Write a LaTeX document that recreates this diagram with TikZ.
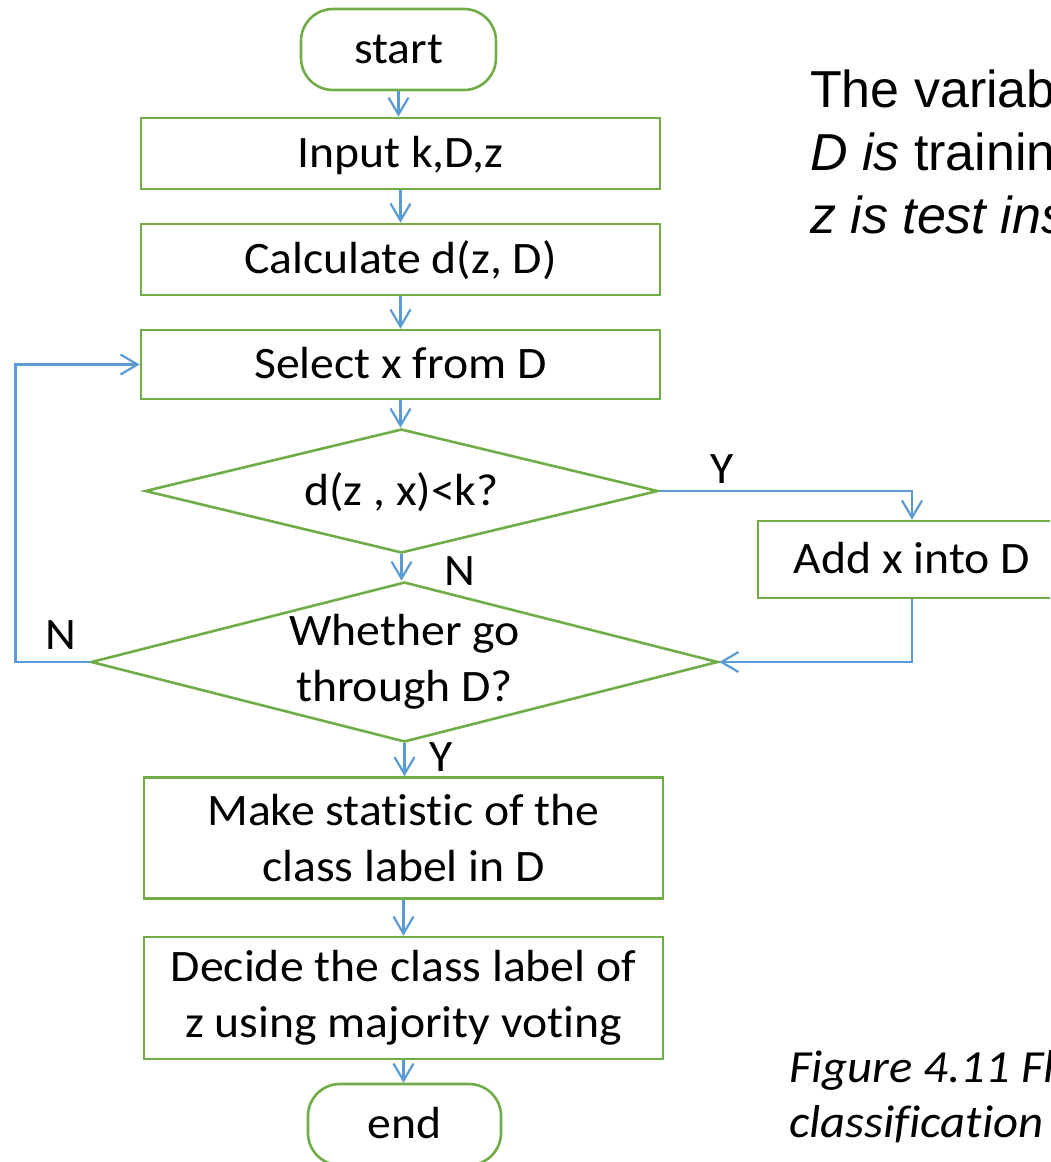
\documentclass[tikz,border=0pt]{standalone}
\usepackage{fontspec}
\setmainfont{Carlito}[Ligatures=NoCommon]
\newfontfamily\flowfont{Carlito}[FakeStretch=1.06, Ligatures=NoCommon]
\newfontfamily\notefont{Liberation Sans}
\usetikzlibrary{shapes.geometric,arrows.meta}
\definecolor{boxgreen}{HTML}{70AD47}
\definecolor{flowblue}{HTML}{5B9BD5}
\begin{document}
\begin{tikzpicture}[x=1pt,y=-1pt,
  txt/.style={font=\flowfont\fontsize{45}{56}\selectfont, text=black},
  oneline/.style={text height=28.5pt, text depth=0pt},
  outline/.style={draw=boxgreen, line width=2.6pt},
  procbox/.style={txt, outline, rectangle, inner sep=0pt, minimum width=519pt, align=center},
  termbox/.style={txt, oneline, outline, rectangle, rounded corners=32pt, inner sep=0pt, minimum width=195pt, minimum height=81pt},
  decision/.style={outline, diamond, inner sep=0pt},
  decisiontext/.style={txt, align=center, inner sep=0pt},
  flow/.style={draw=flowblue, line width=2.2pt, -{Straight Barb[length=17pt,width=20pt]}},
  branchlbl/.style={txt, oneline, inner sep=0pt},
  notetxt/.style={font=\notefont\fontsize{52}{63}\selectfont, inner sep=0pt, anchor=base west},
  captiontxt/.style={font=\flowfont\itshape\fontsize{46}{55}\selectfont, inner sep=0pt, anchor=base west}
]
\useasboundingbox (0,0) rectangle (1050,1162);
\clip (0,0) rectangle (1050,1162);

% main column
\node[termbox] (start) at (398.5,49.5) {start};
\node[procbox, oneline, minimum height=71pt] (input) at (400.5,153.5) {Input k,D,z};
\node[procbox, oneline, minimum height=71pt] (calc) at (400.5,259.5) {Calculate d(z, D)};
\node[procbox, oneline, minimum height=69pt] (select) at (400.5,364.5) {Select x from D};
\node[decision, minimum width=513pt, minimum height=124pt] (d1) at (401.5,491) {};
\node[decisiontext, oneline] (d1t) at (d1) {d(z , x)<k?};
\node[procbox, oneline, minimum width=308pt, minimum height=77pt] (add) at (912,559.5) {Add x into D};
\node[decision, minimum width=627pt, minimum height=160pt] (d2) at (404.5,662) {};
\node[decisiontext] (d2t) at (d2) {Whether go\\through D?};
\node[procbox, minimum height=121pt] (make) at (403.5,838) {Make statistic of the\\class label in D};
\node[procbox, minimum height=122pt] (decide) at (403.5,998) {Decide the class label of\\z using majority voting};
\node[termbox, minimum width=193pt] (end) at (404.5,1124.5) {end};

% branch labels
\node[branchlbl] (yes1) at (722,469) {Y};
\node[branchlbl] (no1) at (460,571) {N};
\node[branchlbl] (no2) at (61,635) {N};
\node[branchlbl] (yes2) at (441,757) {Y};

% connectors
\draw[flow] (start.south) -- (start.south |- input.north);
\draw[flow] (input.south) -- (input.south |- calc.north);
\draw[flow] (calc.south) -- (calc.south |- select.north);
\draw[flow] (select.south) -- (select.south |- d1.north);
\draw[flow] (d1.south) -- (d1.south |- d2.north);
\draw[flow] (d1.east) -| (add.north);
\draw[flow] (add.south) |- (d2.east);
\coordinate (loopx) at (15.5,0);
\draw[flow] (d2.west) -- (d2.west -| loopx) |- (select.west);
\draw[flow] (d2.south) -- (d2.south |- make.north);
\draw[flow] (make.south) -- (make.south |- decide.north);
\draw[flow] (decide.south) -- (decide.south |- end.north);

% note on the variables
\node[notetxt] (note1) at (810,107) {The variable};
\node[notetxt] (note2) at (810,170) {\itshape D is\upshape{} training};
\node[notetxt] (note3) at (810,233) {\itshape z is test instance};

% caption
\node[captiontxt] (cap1) at (789,1082) {Figure 4.11 Flowchart};
\node[captiontxt] (cap2) at (789,1137) {classification};
\end{tikzpicture}
\end{document}
